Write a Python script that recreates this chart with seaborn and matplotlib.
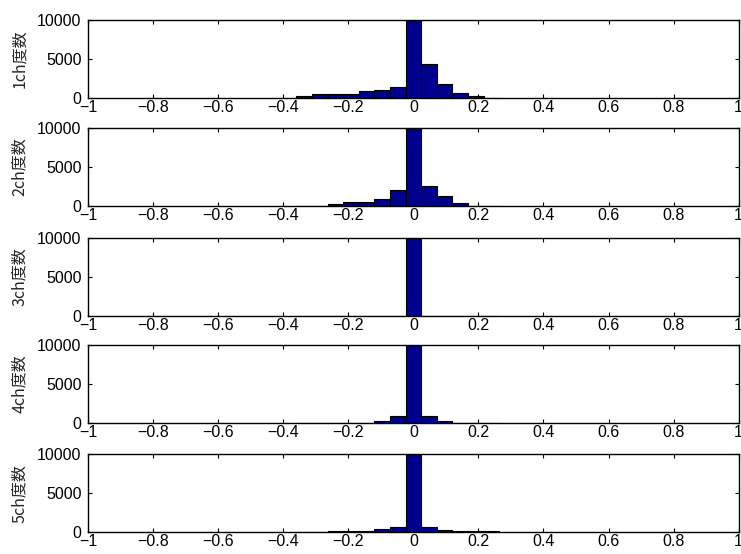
import numpy as np
import pandas as pd
import matplotlib
matplotlib.use("Agg")
import matplotlib.pyplot as plt
import seaborn as sns

# bin offsets (in units of bin width) and counts per channel
bin_width = 0.048
bin_index = list(range(-7, 6))
ch1 = [200, 470, 470, 430, 850, 980, 1400, 12000, 4300, 1750, 600, 170, 0]
ch2 = [0, 0, 210, 430, 430, 850, 2000, 12000, 2500, 1250, 390, 0, 0]
ch3 = [0, 0, 0, 0, 0, 0, 0, 12000, 0, 0, 0, 0, 0]
ch4 = [0, 0, 0, 0, 0, 250, 900, 12000, 900, 250, 0, 0, 0]
ch5 = [0, 0, 170, 170, 200, 390, 690, 12000, 690, 340, 170, 170, 170]
channels = [ch1, ch2, ch3, ch4, ch5]
ylabels = ["1ch度数", "2ch度数", "3ch度数", "4ch度数", "5ch度数"]
xticks = [-1, -0.8, -0.6, -0.4, -0.2, 0, 0.2, 0.4, 0.6, 0.8, 1]
xticklabels = ["\u22121", "\u22120.8", "\u22120.6", "\u22120.4", "\u22120.2", "0",
               "0.2", "0.4", "0.6", "0.8", "1"]
yticks = [0, 5000, 10000]

sns.set_theme(style="white")
plt.rcParams['font.family'] = ['Liberation Sans', 'Noto Sans CJK JP', 'DejaVu Sans']
plt.rcParams['axes.unicode_minus'] = True

fig = plt.figure(figsize=(7.41, 5.54), dpi=100)
bottoms = [0.8236, 0.6287, 0.4301, 0.2365, 0.0392]
left, width, height = 0.1192, 0.8775, 0.1410

centers = np.array(bin_index) * bin_width
edges = list(np.append(centers - bin_width / 2, centers[-1] + bin_width / 2))

for b, counts, lab in zip(bottoms, channels, ylabels):
    ax = fig.add_axes([left, b, width, height])
    df = pd.DataFrame({"value": centers, "count": counts})
    sns.histplot(data=df, x="value", weights="count", bins=edges, ax=ax,
                 color="#00008F", alpha=1.0, edgecolor="black", linewidth=0.8)
    ax.set_xlim(-1, 1)
    ax.set_ylim(0, 10000)
    ax.set_xticks(xticks)
    ax.set_xticklabels(xticklabels)
    ax.set_yticks(yticks)
    ax.set_yticklabels([str(v) for v in yticks])
    ax.tick_params(axis='both', direction='in', length=3, width=0.8,
                   labelsize=11.5, colors='black', top=True, right=True,
                   bottom=True, left=True)
    ax.tick_params(axis='x', pad=1.5)
    ax.tick_params(axis='y', pad=5)
    for s in ax.spines.values():
        s.set_visible(True)
        s.set_color('black')
        s.set_linewidth(1.0)
    ax.set_ylabel(lab, fontsize=11.5, family=['Noto Sans CJK JP', 'DejaVu Sans'])
    ax.yaxis.set_label_coords(-0.093, 0.5)
    ax.set_xlabel("")
    ax.set_facecolor("white")

fig.savefig("out.png", dpi=100, facecolor="white")
